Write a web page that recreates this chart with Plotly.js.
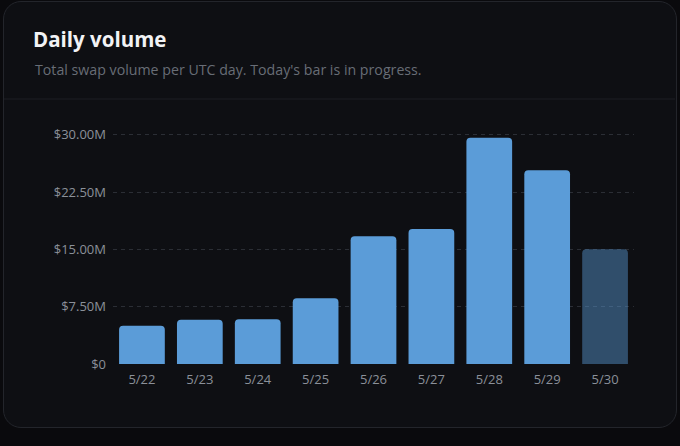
<!DOCTYPE html>
<html>
<head>
<meta charset="utf-8">
<script src="https://cdn.plot.ly/plotly-3.0.1.min.js"></script>
<style>
html,body{margin:0;padding:0;background:#0a0a0d;width:680px;height:446px;overflow:hidden;}
#card{position:absolute;left:3px;top:1px;width:672px;height:425px;border:1px solid #23252b;border-radius:18px;background:#0e0f13;}
#chart{position:absolute;left:0;top:0;width:680px;height:446px;}
</style>
</head>
<body>
<div id="card"></div>
<div id="chart"></div>
<script>
const days = ["5/22","5/23","5/24","5/25","5/26","5/27","5/28","5/29","5/30"];
const volumes = [5.0e6, 5.8e6, 5.85e6, 8.6e6, 16.7e6, 17.65e6, 29.6e6, 25.35e6, 15.0e6];
const inProgress = [false,false,false,false,false,false,false,false,true];
const yTickVals = [0, 7.5e6, 15e6, 22.5e6, 30e6];
const yTickText = ["$0","$7.50M","$15.00M","$22.50M","$30.00M"];
const titleText = "Daily volume";
const subtitleText = "Total swap volume per UTC day. Today's bar is in progress.";

const barColors = inProgress.map(p => p ? "rgba(91,156,216,0.45)" : "#5b9cd8");

const trace = {
  type: "bar",
  x: days,
  y: volumes,
  marker: {color: barColors, cornerradius: 4, line: {width: 0}},
  hoverinfo: "x+y"
};

const W = 680, H = 446, ML = 113, MR = 46, MT = 124, MB = 82;
const PW = W - ML - MR, PH = H - MT - MB;

const layout = {
  width: W, height: H,
  paper_bgcolor: "rgba(0,0,0,0)",
  plot_bgcolor: "rgba(0,0,0,0)",
  margin: {l: ML, r: MR, t: MT, b: MB},
  bargap: 0.21,
  showlegend: false,
  font: {family: "'Open Sans', 'Noto Sans', sans-serif", color: "#8b9099", size: 13},
  title: {
    text: "<b>" + titleText + "</b>",
    x: 33/W, xanchor: "left", xref: "container",
    y: 1 - 40/H, yanchor: "middle", yref: "container",
    font: {size: 20.5, color: "#f2f3f5", family: "'Open Sans', 'Noto Sans', sans-serif"}
  },
  annotations: [{
    text: subtitleText,
    xref: "paper", yref: "paper",
    x: (33-ML)/PW, xanchor: "left",
    y: 1 + (MT-70)/PH, yanchor: "middle",
    showarrow: false,
    font: {size: 14.2, color: "#686d76"}
  }],
  shapes: [{
    type: "line", xref: "paper", yref: "paper",
    x0: (4-ML)/PW, x1: (675-ML)/PW,
    y0: 1 + (MT-99)/PH, y1: 1 + (MT-99)/PH,
    line: {color: "#1d1f24", width: 1}
  }],
  xaxis: {
    type: "category",
    showgrid: false, zeroline: false, showline: false,
    ticks: "", ticklabelstandoff: 6,
    tickfont: {size: 13, color: "#8b9099"},
    fixedrange: true
  },
  yaxis: {
    range: [0, 31.4e6],
    tickvals: yTickVals, ticktext: yTickText,
    showgrid: true, gridcolor: "#2b2e35", griddash: "4px,4px", gridwidth: 1,
    zeroline: false, showline: false, ticks: "",
    ticklabelstandoff: 6,
    tickfont: {size: 13, color: "#8b9099"},
    fixedrange: true
  }
};

Plotly.newPlot("chart", [trace], layout, {displayModeBar: false, staticPlot: true});
</script>
</body>
</html>
